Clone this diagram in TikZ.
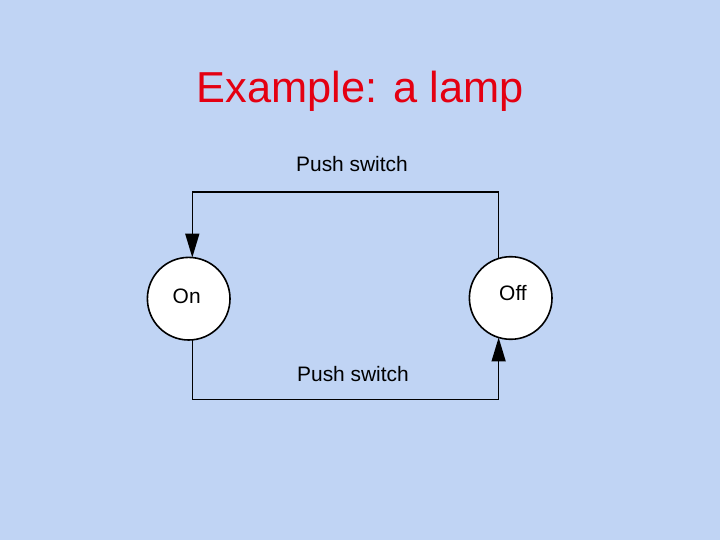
\documentclass[tikz,border=0pt]{standalone}
\usepackage{fontspec}
\setmainfont{Liberation Sans}
\usepackage{xcolor}
\usetikzlibrary{arrows.meta, positioning}

\definecolor{slidebg}{RGB}{192,212,244}
\definecolor{titlered}{RGB}{228,0,18}

\begin{document}
\begin{tikzpicture}[x=1bp, y=-1bp,
    >={Triangle[length=24bp, width=14bp]},
    state/.style={circle, draw=black, line width=1.6bp, fill=white,
        minimum size=82.6bp, inner sep=0pt, outer sep=0pt},
    conn/.style={line width=1.6bp, draw=black},
    lbl/.style={font=\fontsize{21}{24}\selectfont, anchor=base, inner sep=0pt}]

    % =================================================================
    % 1. NỀN VÀ TIÊU ĐỀ
    % =================================================================
    \fill[slidebg] (0,0) rectangle (720,540);
    \node[font=\fontsize{43.5}{48}\selectfont, text=titlered, anchor=base,
        inner sep=0pt] (title) at (360,103) {Example: a lamp};

    % =================================================================
    % 2. CÁC TRẠNG THÁI
    % =================================================================
    \node[state] (on) at (188.7,298.7) {};
    \node[state] (off) at (510.7,298) {};
    \node[lbl] (ontext) at (186.7,303.5) {On};
    \node[lbl] (offtext) at (513,300.7) {Off};

    % Hai mức ngang của các đường nối
    \coordinate (topbar) at (0,192);
    \coordinate (botbar) at (0,399.5);

    % =================================================================
    % 3. CÁC ĐƯỜNG CHUYỂN TRẠNG THÁI
    % =================================================================
    % Off -> On (phía trên)
    \draw[conn, ->] (off.107) -- (off.107 |- topbar) -| (on.85);

    % On -> Off (phía dưới)
    \draw[conn, ->] (on.275) -- (on.275 |- botbar) -| (off.253);

    % Nhãn
    \node[lbl] (pushtop) at (352,172) {Push switch};
    \node[lbl] (pushbot) at (353,381.7) {Push switch};

\end{tikzpicture}
\end{document}
